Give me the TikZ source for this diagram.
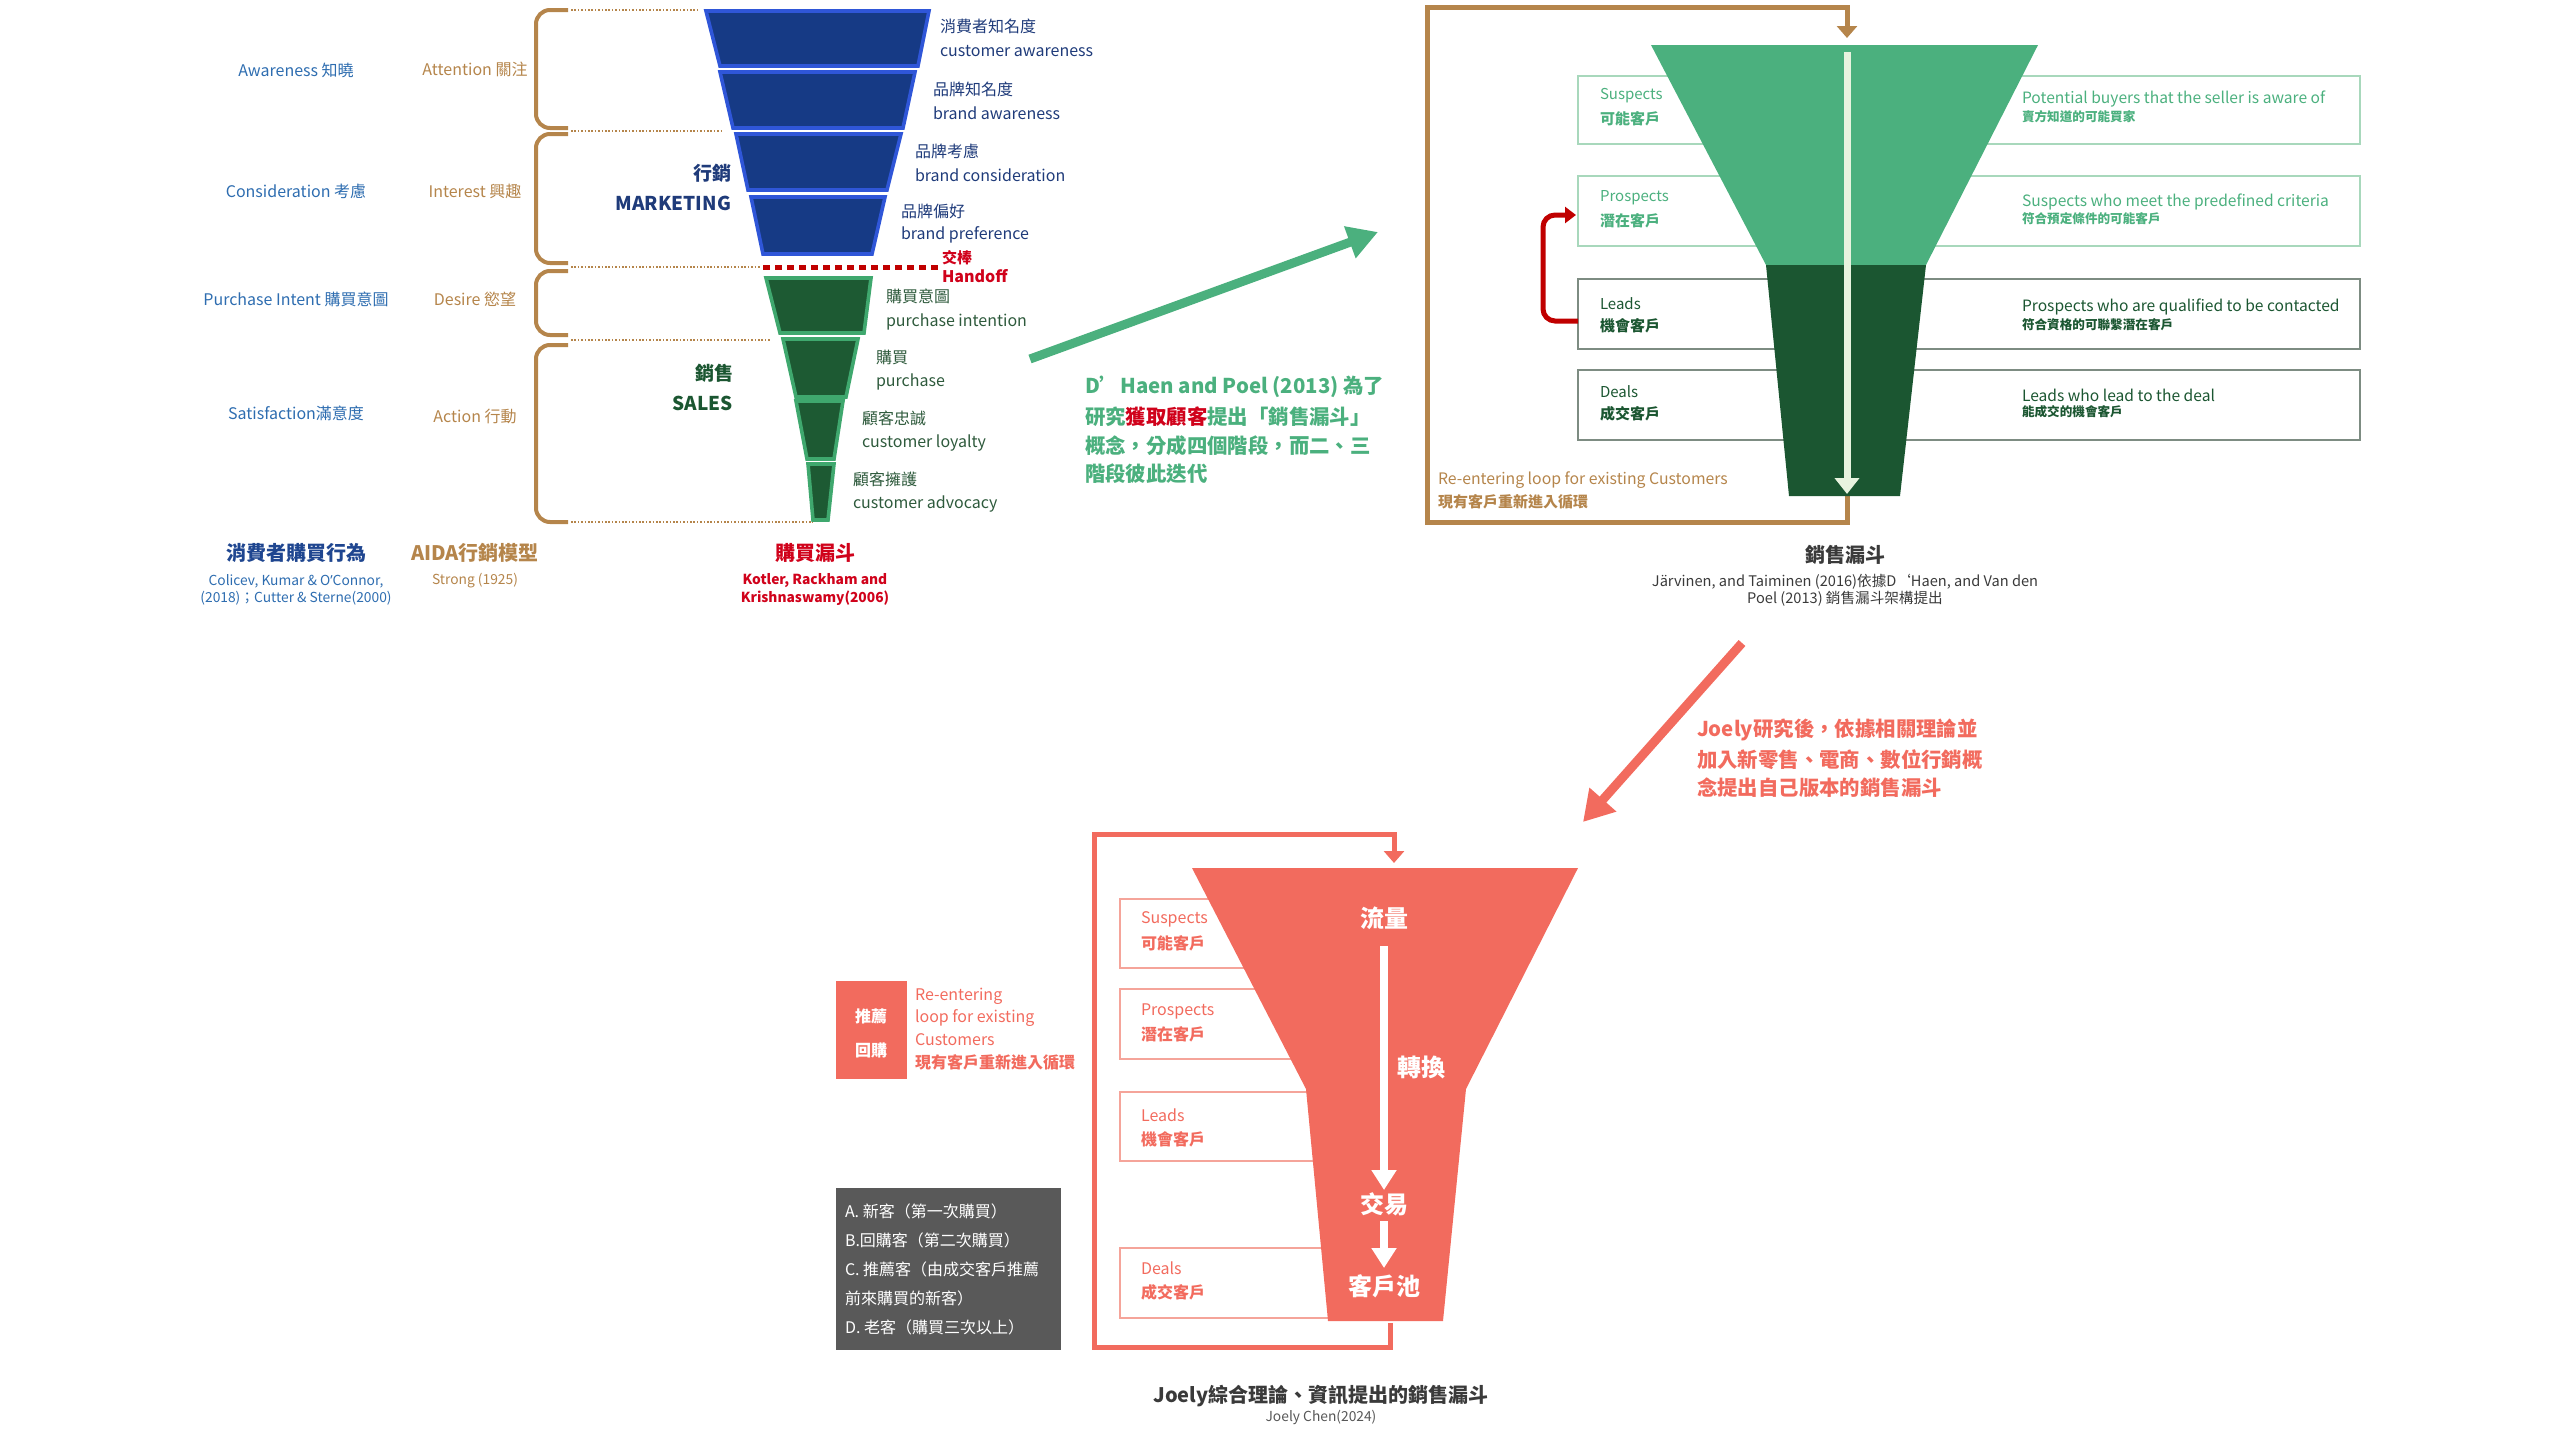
\documentclass[tikz,border=0pt]{standalone}
\usepackage{fontspec}
\setmainfont{Noto Sans CJK TC}
\newfontfamily\latinfont{Noto Sans}
\usetikzlibrary{arrows.meta}
\definecolor{lblue}{HTML}{2E6DB0}
\definecolor{capblue}{HTML}{1F4690}
\definecolor{brownc}{HTML}{B5854B}
\definecolor{navy}{HTML}{1F3B7A}
\definecolor{bluefill}{HTML}{163A85}
\definecolor{blueline}{HTML}{2F56D8}
\definecolor{greenfill}{HTML}{1D5A33}
\definecolor{greenline}{HTML}{3FA86E}
\definecolor{dgtext}{HTML}{2E5A3C}
\definecolor{handred}{HTML}{D0021B}
\definecolor{mgreen}{HTML}{4BB07E}
\definecolor{fdark}{HTML}{1B5631}
\definecolor{pale}{HTML}{E8F3DF}
\definecolor{salmon}{HTML}{F26B5E}
\definecolor{salmonlight}{HTML}{F5A49A}
\definecolor{boxgreen}{HTML}{A8D8BC}
\definecolor{boxgray}{HTML}{7D8C82}
\definecolor{graybox}{HTML}{595959}
\definecolor{captxt}{HTML}{3A3A3A}
\definecolor{redc}{HTML}{C00000}
\tikzset{
  t16/.style={font=\fontsize{8}{10}\selectfont},
  t15/.style={font=\fontsize{7.5}{9}\selectfont},
  t14/.style={font=\fontsize{7.8}{9}\selectfont},
  t15b/.style={font=\fontsize{7.5}{9}\selectfont\bfseries},
  t16b/.style={font=\fontsize{8}{10}\selectfont\bfseries},
  captitle/.style={font=\fontsize{10}{12}\selectfont\bfseries},
  small/.style={font=\fontsize{6.9}{8}\selectfont},
  smallb/.style={font=\fontsize{6.9}{8}\selectfont\bfseries},
  rcjk/.style={font=\fontsize{6.3}{8}\selectfont\bfseries},
  para/.style={font=\fontsize{10.2}{12}\selectfont\bfseries, anchor=west},
  big/.style={font=\fontsize{9.5}{11}\selectfont\bfseries},
  wbig/.style={font=\fontsize{12}{14}\selectfont\bfseries, text=white},
  lw/.style={anchor=west},
  brace/.style={draw=brownc, line width=2pt, rounded corners=7},
  dotl/.style={draw=brownc, line width=0.8pt, dash pattern=on 0.8pt off 0.9pt},
  bseg/.style={fill=bluefill, draw=blueline, line width=1.8pt},
  gseg/.style={fill=greenfill, draw=greenline, line width=1.8pt},
}
\begin{document}
\begin{tikzpicture}[x=0.5pt,y=-0.5pt, every node/.style={inner sep=0pt, outer sep=0pt}]
\useasboundingbox (0,0) rectangle (2560,1440);

% ---------------- left columns ----------------
\node[t16, text=lblue] (aw) at (296,70) {Awareness 知曉};
\node[t16, text=lblue] (co) at (296,191) {Consideration 考慮};
\node[t16, text=lblue] (pi) at (296,299) {Purchase Intent 購買意圖};
\node[t16, text=lblue] (sa) at (296,413) {Satisfaction滿意度};
\node[t16, text=brownc] (at) at (475,69) {Attention 關注};
\node[t16, text=brownc] (in) at (475,191) {Interest 興趣};
\node[t16, text=brownc] (de) at (475,299) {Desire 慾望};
\node[t16, text=brownc] (ac) at (475,416) {Action 行動};

% braces
\draw[brace] (568,10) -- (536,10) -- (536,128) -- (568,128);
\draw[brace] (568,134) -- (536,134) -- (536,263) -- (568,263);
\draw[brace] (568,271) -- (536,271) -- (536,335) -- (568,335);
\draw[brace] (568,345) -- (536,345) -- (536,522) -- (568,522);

% dotted guides
\draw[dotl] (571,10) -- (700,10);
\draw[dotl] (571,131) -- (722,131);
\draw[dotl] (571,267) -- (761,267);
\draw[dotl] (571,340) -- (770,340);
\draw[dotl] (571,522) -- (813,522);

% handoff dashed
\draw[draw=redc, line width=2.5pt, dash pattern=on 3.5pt off 2.5pt] (763,267) -- (940,267);

% blue funnel
\draw[bseg] (706,11) -- (929,11) -- (918,66) -- (720,66) -- cycle;
\draw[bseg] (720,72) -- (915,72) -- (903,128) -- (733,128) -- cycle;
\draw[bseg] (736,134) -- (901,134) -- (887,190) -- (748,190) -- cycle;
\draw[bseg] (751,197) -- (885,197) -- (872,254) -- (763,254) -- cycle;
% green funnel
\draw[gseg] (766,278) -- (871,278) -- (864,333) -- (780,333) -- cycle;
\draw[gseg] (783,339) -- (858,339) -- (846,397) -- (796,397) -- cycle;
\draw[gseg] (796,401) -- (843,401) -- (834,459) -- (807,459) -- cycle;
\draw[gseg] (808,464) -- (834,464) -- (828,520) -- (813,520) -- cycle;

% funnel labels
\node[t16, text=navy, lw] (l1a) at (940,26) {消費者知名度};
\node[t16, text=navy, lw] (l1b) at (940,51) {customer awareness};
\node[t16, text=navy, lw] (l2a) at (933,89) {品牌知名度};
\node[t16, text=navy, lw] (l2b) at (933,113) {brand awareness};
\node[t16, text=navy, lw] (l3a) at (915,151) {品牌考慮};
\node[t16, text=navy, lw] (l3b) at (915,175) {brand consideration};
\node[t16, text=navy, lw] (l4a) at (901,211) {品牌偏好};
\node[t16, text=navy, lw] (l4b) at (901,235) {brand preference};
\node[t15b, text=handred, lw] (hoa) at (942,258) {交棒};
\node[t16b, text=handred, lw] (hob) at (942,276) {Handoff};
\node[t16, text=dgtext, lw] (l5a) at (886,296) {購買意圖};
\node[t16, text=dgtext, lw] (l5b) at (886,322) {purchase intention};
\node[t16, text=dgtext, lw] (l6a) at (876,357) {購買};
\node[t16, text=dgtext, lw] (l6b) at (876,382) {purchase};
\node[t16, text=dgtext, lw] (l7a) at (862,418) {顧客忠誠};
\node[t16, text=dgtext, lw] (l7b) at (862,443) {customer loyalty};
\node[t16, text=dgtext, lw] (l8a) at (853,479) {顧客擁護};
\node[t16, text=dgtext, lw] (l8b) at (853,504) {customer advocacy};

\node[big, text=navy, anchor=east] (mka) at (731,173) {行銷};
\node[big, text=navy, anchor=east] (mkb) at (731,203) {MARKETING};
\node[big, text=fdark, anchor=east] (saa) at (733,373) {銷售};
\node[big, text=fdark, anchor=east] (sab) at (733,403) {SALES};

% captions left
\node[captitle, text=capblue] (c1) at (296,553) {消費者購買行為};
\node[small, text=lblue] (c1a) at (296,581) {Colicev, Kumar \& O{\latinfont ’}Connor,};
\node[small, text=lblue] (c1b) at (296,598) {(2018)；Cutter \& Sterne(2000)};
\node[captitle, text=brownc] (c2) at (475,553) {AIDA行銷模型};
\node[small, text=brownc] (c2a) at (475,581) {Strong (1925)};
\node[captitle, text=handred] (c3) at (815,553) {購買漏斗};
\node[smallb, text=handred] (c3a) at (815,581) {Kotler, Rackham and};
\node[smallb, text=handred] (c3b) at (815,598) {Krishnaswamy(2006)};

% green arrow and paragraph
\coordinate (ga1) at (1030,359);
\coordinate (ga2) at (1378,232);
\draw[mgreen, line width=4.5pt, -{Triangle[length=15pt,width=16pt]}] (ga1) -- (ga2);
\node[para, text=mgreen] (p1) at (1085,387) {D’Haen and Poel (2013) 為了};
\node[para, text=mgreen] (p2) at (1085,417) {研究{\color{handred}獲取顧客}提出「銷售漏斗」};
\node[para, text=mgreen] (p3) at (1085,446) {概念，分成四個階段，而二、三};
\node[para, text=mgreen] (p4) at (1085,474) {階段彼此迭代};

% ---------------- right top funnel ----------------
\draw[boxgreen, line width=1pt] (1578,76) rectangle (2360,144);
\draw[boxgreen, line width=1pt] (1578,176) rectangle (2360,246);
\draw[boxgray, line width=1pt] (1578,279) rectangle (2360,349);
\draw[boxgray, line width=1pt] (1578,370) rectangle (2360,440);

\coordinate (ftop) at (1847,38);
\coordinate (fbot) at (1847,496);
\draw[brownc, line width=2.5pt, -{Triangle[length=6pt,width=10pt]}] (fbot) -- (1847,522) -- (1427,522) -- (1427,7) -- (1847,7) -- (ftop);

\fill[mgreen] (1651,45) -- (2038,45) -- (1926,265) -- (1766,265) -- cycle;
\fill[fdark] (1766,265) -- (1926,265) -- (1900,496) -- (1789,496) -- cycle;
\coordinate (va1) at (1847,52);
\coordinate (va2) at (1847,494);
\draw[pale, line width=3.5pt, -{Triangle[length=8pt,width=12pt]}] (va1) -- (va2);

\node[t15, text=mgreen, lw] (s1) at (1600,96) {Suspects};
\node[t15b, text=mgreen, lw] (s2) at (1600,119) {可能客戶};
\node[t15, text=mgreen, lw] (pr1) at (1600,198) {Prospects};
\node[t15b, text=mgreen, lw] (pr2) at (1600,221) {潛在客戶};
\node[t15, text=fdark, lw] (le1) at (1600,304) {Leads};
\node[t15b, text=fdark, lw] (le2) at (1600,326) {機會客戶};
\node[t15, text=fdark, lw] (de1) at (1600,392) {Deals};
\node[t15b, text=fdark, lw] (de2) at (1600,414) {成交客戶};

\node[t14, text=mgreen, lw] (r1a) at (2022,99) {Potential buyers that the seller is aware of};
\node[rcjk, text=mgreen, lw] (r1b) at (2022,117) {賣方知道的可能買家};
\node[t14, text=mgreen, lw] (r2a) at (2022,202) {Suspects who meet the predefined criteria};
\node[rcjk, text=mgreen, lw] (r2b) at (2022,219) {符合預定條件的可能客戶};
\node[t14, text=fdark, lw] (r3a) at (2022,307) {Prospects who are qualified to be contacted};
\node[rcjk, text=fdark, lw] (r3b) at (2022,325) {符合資格的可聯繫潛在客戶};
\node[t14, text=fdark, lw] (r4a) at (2022,395) {Leads who lead to the deal};
\node[rcjk, text=fdark, lw] (r4b) at (2022,412) {能成交的機會客戶};

\coordinate (ra1) at (1578,321);
\coordinate (ra2) at (1576,215);
\draw[redc, line width=2.5pt, rounded corners=6, -{Triangle[length=5.5pt,width=8pt]}] (ra1) -- (1543,321) -- (1543,215) -- (ra2);

\node[text=brownc, lw, font=\fontsize{7.9}{9}\selectfont] (re1) at (1438,480) {Re-entering loop for existing Customers};
\node[t15b, text=brownc, lw] (re2) at (1438,502) {現有客戶重新進入循環};

\node[captitle, text=captxt] (c4) at (1845,555) {銷售漏斗};
\node[text=captxt, font=\fontsize{7.3}{9}\selectfont] (c4a) at (1845,582) {Järvinen, and Taiminen (2016)依據D‘Haen, and Van den};
\node[text=captxt, font=\fontsize{7.3}{9}\selectfont] (c4b) at (1845,599) {Poel (2013) 銷售漏斗架構提出};

% red arrow and text
\coordinate (sa1) at (1742,643);
\coordinate (sa2) at (1583,822);
\draw[salmon, line width=4.5pt, -{Triangle[length=15pt,width=17pt]}] (sa1) -- (sa2);
\node[para, text=salmon] (j1) at (1697,730) {Joely研究後，依據相關理論並};
\node[para, text=salmon] (j2) at (1697,760) {加入新零售、電商、數位行銷概};
\node[para, text=salmon] (j3) at (1697,788) {念提出自己版本的銷售漏斗};

% ---------------- bottom funnel ----------------
\draw[salmonlight, line width=1pt] (1120,899) rectangle (1380,968);
\draw[salmonlight, line width=1pt] (1120,989) rectangle (1380,1059);
\draw[salmonlight, line width=1pt] (1120,1092) rectangle (1380,1161);
\draw[salmonlight, line width=1pt] (1120,1248) rectangle (1380,1318);

\coordinate (btop) at (1394,863);
\coordinate (bbot) at (1390,1323);
\draw[salmon, line width=2.5pt, -{Triangle[length=6pt,width=10pt]}] (bbot) -- (1390,1347) -- (1094,1347) -- (1094,834) -- (1394,834) -- (btop);

\fill[salmon] (1192,868) -- (1578,868) -- (1466,1089) -- (1443,1321) -- (1328,1321) -- (1306,1089) -- cycle;

\node[t16, text=salmon, lw] (bs1) at (1141,919) {Suspects};
\node[t16b, text=salmon, lw] (bs2) at (1141,943) {可能客戶};
\node[t16, text=salmon, lw] (bp1) at (1141,1011) {Prospects};
\node[t16b, text=salmon, lw] (bp2) at (1141,1034) {潛在客戶};
\node[t16, text=salmon, lw] (bl1) at (1141,1115) {Leads};
\node[t16b, text=salmon, lw] (bl2) at (1141,1139) {機會客戶};
\node[t16, text=salmon, lw] (bd1) at (1141,1268) {Deals};
\node[t16b, text=salmon, lw] (bd2) at (1141,1292) {成交客戶};

\node[wbig] (w1) at (1384,918) {流量};
\node[wbig] (w2) at (1421,1067) {轉換};
\node[wbig] (w3) at (1384,1204) {交易};
\node[wbig] (w4) at (1384,1286) {客戶池};
\coordinate (wa1) at (1384,946);
\coordinate (wa2) at (1384,1190);
\coordinate (wb1) at (1384,1221);
\coordinate (wb2) at (1384,1268);
\draw[white, line width=4pt, -{Triangle[length=10pt,width=12pt]}] (wa1) -- (wa2);
\draw[white, line width=4pt, -{Triangle[length=10pt,width=12pt]}] (wb1) -- (wb2);

\fill[salmon] (836,981) rectangle (907,1079);
\node[t16b, text=white] (tj1) at (871,1016) {推薦};
\node[t16b, text=white] (tj2) at (871,1050) {回購};
\node[t16, text=salmon, lw] (rb1) at (915,996) {Re-entering};
\node[t16, text=salmon, lw] (rb2) at (915,1018) {loop for existing};
\node[t16, text=salmon, lw] (rb3) at (915,1040) {Customers};
\node[t16b, text=salmon, lw] (rb4) at (915,1062) {現有客戶重新進入循環};

\fill[graybox] (836,1188) rectangle (1061,1350);
\node[t16, text=white, lw] (g1) at (845,1211) {A. 新客（第一次購買）};
\node[t16, text=white, lw] (g2) at (845,1240) {B.回購客（第二次購買）};
\node[t16, text=white, lw] (g3) at (845,1269) {C. 推薦客（由成交客戶推薦};
\node[t16, text=white, lw] (g4) at (845,1298) {前來購買的新客）};
\node[t16, text=white, lw] (g5) at (845,1327) {D. 老客（購買三次以上）};

\node[captitle, text=captxt] (c5) at (1321,1396) {Joely綜合理論、資訊提出的銷售漏斗};
\node[small, text=captxt!85] (c5a) at (1321,1417) {Joely Chen(2024)};
\end{tikzpicture}
\end{document}
